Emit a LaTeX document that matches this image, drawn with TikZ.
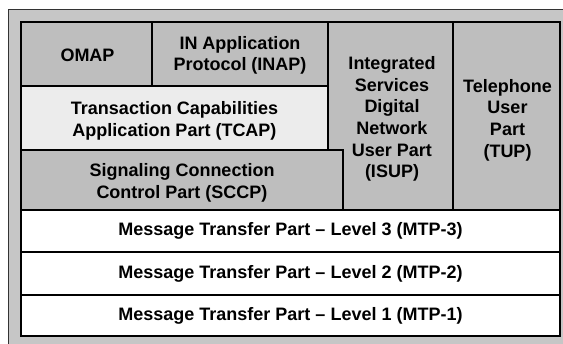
\documentclass[tikz,border=0pt]{standalone}
\usepackage{fontspec}
\setmainfont{Liberation Sans}
\definecolor{outergray}{HTML}{C6C6C6}
\definecolor{boxgray}{HTML}{BEBEBE}
\definecolor{lightbox}{HTML}{ECECEC}
\begin{document}
\begin{tikzpicture}[x=1pt,y=-1pt,
  lay/.style={draw=black, line width=1.3pt, inner sep=0pt, outer sep=0pt,
    font=\fontsize{18}{21.6}\selectfont\bfseries, align=center, text=black},
  txt/.style={inner sep=0pt, font=\fontsize{18}{21.6}\selectfont\bfseries, align=center, text=black},
  graybox/.style={lay, fill=boxgray},
  lightbox/.style={lay, fill=lightbox},
  whitebox/.style={lay, fill=white}]
\useasboundingbox (0,0) rectangle (563,344);
\fill[white] (0,0) rectangle (563,344);
\node[draw=black!80, line width=0.8pt, fill=outergray, inner sep=0pt, minimum width=556pt, minimum height=336pt, anchor=north west] (frame) at (8,9) {};
% ISUP (drawn first, SCCP overlaps its lower left part)
\node[graybox, minimum width=125pt, minimum height=188pt, anchor=north west] (isupbox) at (328,22) {};
\node[graybox, minimum width=107pt, minimum height=188pt, anchor=north west] (tupbox) at (453,22) {};
\node[graybox, minimum width=131pt, minimum height=64pt, anchor=north west] (omapbox) at (21,22) {};
\node[graybox, minimum width=176pt, minimum height=64pt, anchor=north west] (inapbox) at (152,22) {};
\node[lightbox, minimum width=307pt, minimum height=64pt, anchor=north west] (tcapbox) at (21,86) {};
\node[graybox, minimum width=322pt, minimum height=60pt, anchor=north west] (sccpbox) at (21,150) {};
\node[txt] (isup) at (392,119) {Integrated\\Services\\Digital\\Network\\User Part\\(ISUP)};
\node[txt] (tup) at ([xshift=1pt,yshift=-4pt]tupbox.center) {Telephone\\User\\Part\\(TUP)};
\node[txt] (omap) at ([xshift=1pt,yshift=-1pt]omapbox.center) {OMAP};
\node[txt] (inap) at ([yshift=-1.5pt]inapbox.center) {IN Application\\Protocol (INAP)};
\node[txt] (tcap) at ([yshift=-3pt]tcapbox.center) {Transaction Capabilities\\Application Part (TCAP)};
\node[txt] (sccp) at ([yshift=-3pt]sccpbox.center) {Signaling Connection\\Control Part (SCCP)};
\node[whitebox, minimum width=539pt, minimum height=42pt, anchor=north west] (mtp3) at (21,210) {Message Transfer Part -- Level 3 (MTP-3)};
\node[whitebox, minimum width=539pt, minimum height=43pt, anchor=north west] (mtp2) at (21,252) {Message Transfer Part -- Level 2 (MTP-2)};
\node[whitebox, minimum width=539pt, minimum height=41pt, anchor=north west] (mtp1) at (21,295) {Message Transfer Part -- Level 1 (MTP-1)};
\end{tikzpicture}
\end{document}
